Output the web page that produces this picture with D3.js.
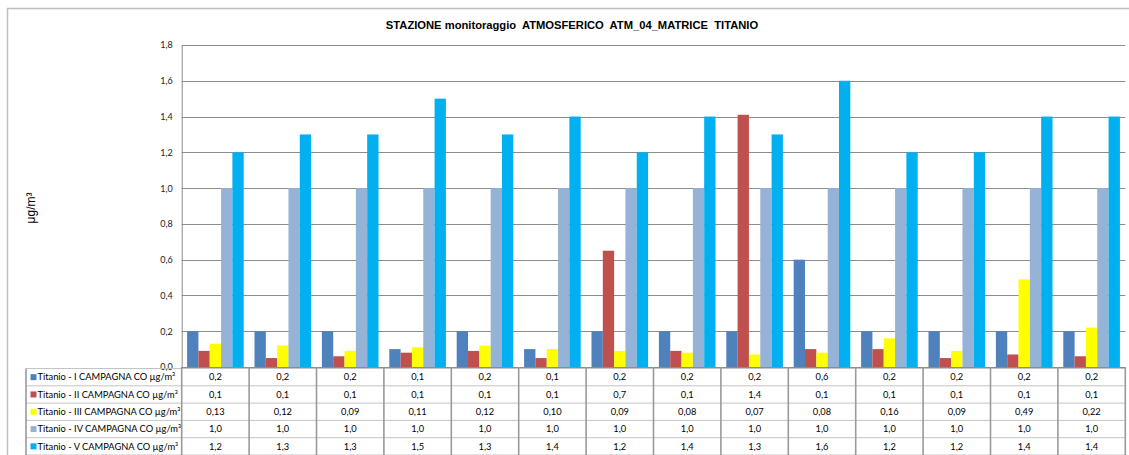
<!DOCTYPE html>
<html>
<head>
<meta charset="utf-8">
<script src="https://cdn.jsdelivr.net/npm/d3@7/dist/d3.min.js"></script>
<style>
  html, body { margin: 0; padding: 0; background: #fff; }
  svg { display: block; }
</style>
</head>
<body>
<div id="chart"></div>
<script>
// ---- Data ----
const title = "STAZIONE monitoraggio  ATMOSFERICO  ATM_04_MATRICE  TITANIO";
const yLabel = "μg/m³";
const categories = ["1","2","3","4","5","6","7","8","9","10","11","12","13","14"];
const seriesNames = [
  "Titanio - I CAMPAGNA CO µg/m³",
  "Titanio - II CAMPAGNA CO µg/m³",
  "Titanio - III CAMPAGNA CO µg/m³",
  "Titanio - IV CAMPAGNA CO µg/m³",
  "Titanio - V CAMPAGNA CO µg/m³"
];
const seriesColors = ["#4F81BD", "#C0504D", "#FFFF00", "#95B3D7", "#00B0F0"];
const valuesI   = [0.2, 0.2, 0.2, 0.1, 0.2, 0.1, 0.2, 0.2, 0.2, 0.6, 0.2, 0.2, 0.2, 0.2];
const valuesII  = [0.09, 0.05, 0.06, 0.08, 0.09, 0.05, 0.65, 0.09, 1.41, 0.10, 0.10, 0.05, 0.07, 0.06];
const valuesIII = [0.13, 0.12, 0.09, 0.11, 0.12, 0.10, 0.09, 0.08, 0.07, 0.08, 0.16, 0.09, 0.49, 0.22];
const valuesIV  = [1.0, 1.0, 1.0, 1.0, 1.0, 1.0, 1.0, 1.0, 1.0, 1.0, 1.0, 1.0, 1.0, 1.0];
const valuesV   = [1.2, 1.3, 1.3, 1.5, 1.3, 1.4, 1.2, 1.4, 1.3, 1.6, 1.2, 1.2, 1.4, 1.4];
const tableI    = ["0,2","0,2","0,2","0,1","0,2","0,1","0,2","0,2","0,2","0,6","0,2","0,2","0,2","0,2"];
const tableII   = ["0,1","0,1","0,1","0,1","0,1","0,1","0,7","0,1","1,4","0,1","0,1","0,1","0,1","0,1"];
const tableIII  = ["0,13","0,12","0,09","0,11","0,12","0,10","0,09","0,08","0,07","0,08","0,16","0,09","0,49","0,22"];
const tableIV   = ["1,0","1,0","1,0","1,0","1,0","1,0","1,0","1,0","1,0","1,0","1,0","1,0","1,0","1,0"];
const tableV    = ["1,2","1,3","1,3","1,5","1,3","1,4","1,2","1,4","1,3","1,6","1,2","1,2","1,4","1,4"];
const yTicks = [0, 0.2, 0.4, 0.6, 0.8, 1.0, 1.2, 1.4, 1.6, 1.8];

const seriesValues = [valuesI, valuesII, valuesIII, valuesIV, valuesV];
const tableRows = [tableI, tableII, tableIII, tableIV, tableV];

// ---- Layout ----
const W = 1129, H = 455;
const plot = { left: 181.7, right: 1125.3, top: 45, bottom: 367 };
const table = { left: 26, top: 368.5, rowH: 17.3 };

const svg = d3.select("#chart").append("svg")
  .attr("width", W).attr("height", H);

// outer frame
svg.append("path")
  .attr("d", `M7.5,${H} L7.5,8.5 L${W},8.5`)
  .attr("fill", "none").attr("stroke", "#bfbfbf").attr("stroke-width", 1.5);

// title
svg.append("text")
  .attr("x", 572).attr("y", 29)
  .attr("text-anchor", "middle")
  .attr("font-family", "'Liberation Sans', Arial, sans-serif")
  .attr("font-weight", "bold").attr("font-size", 11.2)
  .attr("fill", "#000")
  .style("white-space", "pre")
  .text(title);

// scales
const y = d3.scaleLinear().domain([0, 1.8]).range([plot.bottom, plot.top]);
const x0 = d3.scaleBand().domain(categories).range([plot.left, plot.right]).padding(0);
const gap = x0.bandwidth() * 0.08;
const x1 = d3.scaleBand().domain(d3.range(seriesValues.length))
  .range([gap, x0.bandwidth() - gap]).padding(0);

const fmt = d => d3.format(".1f")(d).replace(".", ",");

// gridlines
svg.append("g")
  .selectAll("line").data(yTicks.filter(t => t > 0)).join("line")
  .attr("x1", plot.left).attr("x2", plot.right)
  .attr("y1", d => Math.round(y(d)) + 0.5).attr("y2", d => Math.round(y(d)) + 0.5)
  .attr("stroke", "#8c8c8c").attr("stroke-width", 1);

// y axis
const yAxis = d3.axisLeft(y).tickValues(yTicks).tickFormat(fmt).tickSize(0).tickPadding(9);
const gy = svg.append("g").attr("transform", `translate(${plot.left},0)`).call(yAxis);
gy.select(".domain").attr("stroke", "#8c8c8c");
gy.selectAll("text")
  .attr("font-family", "Lato, 'Liberation Sans', sans-serif")
  .attr("font-size", 9).attr("fill", "#222");

// y label
svg.append("text")
  .attr("transform", `translate(35,208) rotate(-90)`)
  .attr("text-anchor", "middle")
  .attr("font-family", "'Liberation Sans', Arial, sans-serif")
  .attr("font-size", 12).attr("fill", "#000")
  .text(yLabel);

// bars
const groups = svg.append("g").selectAll("g").data(categories).join("g")
  .attr("transform", d => `translate(${x0(d)},0)`);
groups.selectAll("rect")
  .data((c, i) => seriesValues.map((vals, s) => ({ s, v: vals[i] })))
  .join("rect")
  .attr("x", d => x1(d.s))
  .attr("width", x1.bandwidth())
  .attr("y", d => y(d.v))
  .attr("height", d => y(0) - y(d.v))
  .attr("fill", d => seriesColors[d.s]);

// x axis line
svg.append("line")
  .attr("x1", plot.left).attr("x2", plot.right)
  .attr("y1", plot.bottom + 0.5).attr("y2", plot.bottom + 0.5)
  .attr("stroke", "#8c8c8c");

// ---- Data table ----
const tbl = svg.append("g");
const tBottom = table.top + table.rowH * tableRows.length;
tbl.selectAll("line.h").data(d3.range(tableRows.length + 1)).join("line")
  .attr("class", "h")
  .attr("x1", table.left).attr("x2", plot.right)
  .attr("y1", i => table.top + i * table.rowH).attr("y2", i => table.top + i * table.rowH)
  .attr("stroke", "#c4c4c4").attr("stroke-width", 1);
const vx = [table.left].concat(categories.map(c => x0(c))).concat([plot.right]);
tbl.selectAll("line.v").data(vx).join("line")
  .attr("class", "v")
  .attr("x1", d => d).attr("x2", d => d)
  .attr("y1", (d, i) => i === 0 ? table.top : plot.bottom)
  .attr("y2", tBottom)
  .attr("stroke", "#9a9a9a").attr("stroke-width", 1.6);

const rows = tbl.selectAll("g.row").data(seriesNames).join("g")
  .attr("class", "row")
  .attr("transform", (d, i) => `translate(0,${table.top + i * table.rowH})`);
rows.append("rect")
  .attr("x", 30.5).attr("y", table.rowH / 2 - 3)
  .attr("width", 6).attr("height", 6)
  .attr("fill", (d, i) => seriesColors[i]);
rows.append("text")
  .attr("x", 37.5).attr("y", table.rowH / 2 + 3.3)
  .attr("font-family", "Lato, 'Liberation Sans', sans-serif")
  .attr("font-size", 9.3).attr("fill", "#000")
  .text(d => d);
rows.each(function (d, i) {
  d3.select(this).selectAll("text.cell").data(tableRows[i]).join("text")
    .attr("class", "cell")
    .attr("x", (v, j) => x0(categories[j]) + x0.bandwidth() / 2)
    .attr("y", table.rowH / 2 + 3.3)
    .attr("text-anchor", "middle")
    .attr("font-family", "Lato, 'Liberation Sans', sans-serif")
    .attr("font-size", 9.3).attr("fill", "#000")
    .text(v => v);
});
</script>
</body>
</html>
